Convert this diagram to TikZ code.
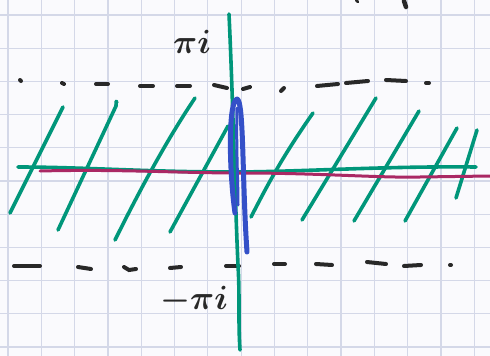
\documentclass[tikz,border=0pt]{standalone}
\usepackage{amsmath,bm}
\definecolor{paper}{RGB}{250,250,253}
\definecolor{gridc}{RGB}{212,216,232}
\definecolor{tealink}{RGB}{0,150,122}
\definecolor{magink}{RGB}{170,40,100}
\definecolor{blueink}{RGB}{52,80,200}
\definecolor{blackink}{RGB}{40,40,40}
\tikzset{
  gridline/.style={draw=gridc, line width=1.2pt},
  tealpen/.style={draw=tealink, line width=3.6pt, line cap=round, line join=round},
  magpen/.style={draw=magink, line width=3pt, line cap=round},
  bluepen/.style={draw=blueink, line width=5pt, line cap=round, line join=round},
  dashpen/.style={draw=blackink, line width=4pt, line cap=round},
  labeltext/.style={text=blackink, font=\Huge, scale=1.35, inner sep=0pt},
}
\begin{document}
\begin{tikzpicture}[x=1pt,y=-1pt]
\useasboundingbox (0,0) rectangle (490,356);
\fill[paper] (0,0) rectangle (490,356);
% grid
\foreach \k in {0,...,14} { \draw[gridline] ({8+33.3*\k},0) -- ({8+33.3*\k},356); }
\foreach \k in {0,...,10} { \draw[gridline] (0,{15+33.2*\k}) -- (490,{15+33.2*\k}); }
% top right stray ink
\draw[dashpen, line width=2.5pt] (356,0) -- (358,2);
\draw[dashpen, line width=4.5pt] (404,1) -- (406,7);
% top dashed line
\draw[dashpen] (20,80) -- (21,81);
\draw[dashpen] (62,83) -- (64,84);
\draw[dashpen] (96,84) -- (108,84);
\draw[dashpen] (140,86) -- (153,86);
\draw[dashpen] (177,86) -- (190,86);
\draw[dashpen] (214,85) -- (227,88);
\draw[dashpen] (243,89) -- (250,87);
\draw[dashpen] (281,91) -- (284,88);
\draw[dashpen] (317,86) -- (338,84);
\draw[dashpen] (346,83) -- (368,81);
\draw[dashpen] (386,80) -- (406,81);
\draw[dashpen] (426,83) -- (429,83);
% bottom dashed line
\draw[dashpen] (14,266) -- (40,266);
\draw[dashpen] (78,267) -- (91,269);
\draw[dashpen] (124,267) -- (129,270) -- (136,269);
\draw[dashpen] (170,268) -- (181,267);
\draw[dashpen] (226,266) -- (239,266);
\draw[dashpen] (274,264) -- (285,264);
\draw[dashpen] (316,264) -- (332,265);
\draw[dashpen] (367,262) -- (386,264);
\draw[dashpen] (404,266) -- (421,265);
\draw[dashpen] (450,265) -- (451,265);
% hatch lines
\draw[tealpen] (63,107) -- (10,213);
\draw[tealpen] (117,102) .. controls (115,100) and (117,104) .. (116,106) -- (58,230);
\draw[tealpen] (195,98) .. controls (160,150) and (130,210) .. (115,240);
\draw[tealpen] (228,126) -- (170,232);
\draw[tealpen] (313,113) .. controls (280,160) and (265,190) .. (251,217);
\draw[tealpen] (376,98) -- (302,220);
\draw[tealpen] (419,111) -- (354,221);
\draw[tealpen] (457,128) -- (405,221);
\draw[tealpen] (477,130) -- (456,198);
% horizontal teal axis
\draw[tealpen] (18,167) .. controls (80,167) and (150,172) .. (230,172) .. controls (300,172) and (380,166) .. (476,167);
% magenta line
\draw[magpen] (40,171) .. controls (120,169) and (180,173) .. (240,173) .. controls (320,173) and (380,178) .. (420,177) -- (490,176);
% vertical teal axis
\draw[tealpen] (229,14) .. controls (233,100) and (235,200) .. (238,265) .. controls (240,300) and (238,320) .. (240,350);
% blue loop
\draw[bluepen] (235,213) .. controls (229,170) and (228,102) .. (237,99) .. controls (244,100) and (242,180) .. (247,252);
\draw[bluepen, line width=3pt] (237,108) .. controls (236,150) and (238,180) .. (238,205);
% labels
\node[labeltext] (pii) at (192,42) {$\bm{\pi i}$};
\node[labeltext] (mpii) at (194,300) {$\bm{-\pi i}$};
\end{tikzpicture}
\end{document}
